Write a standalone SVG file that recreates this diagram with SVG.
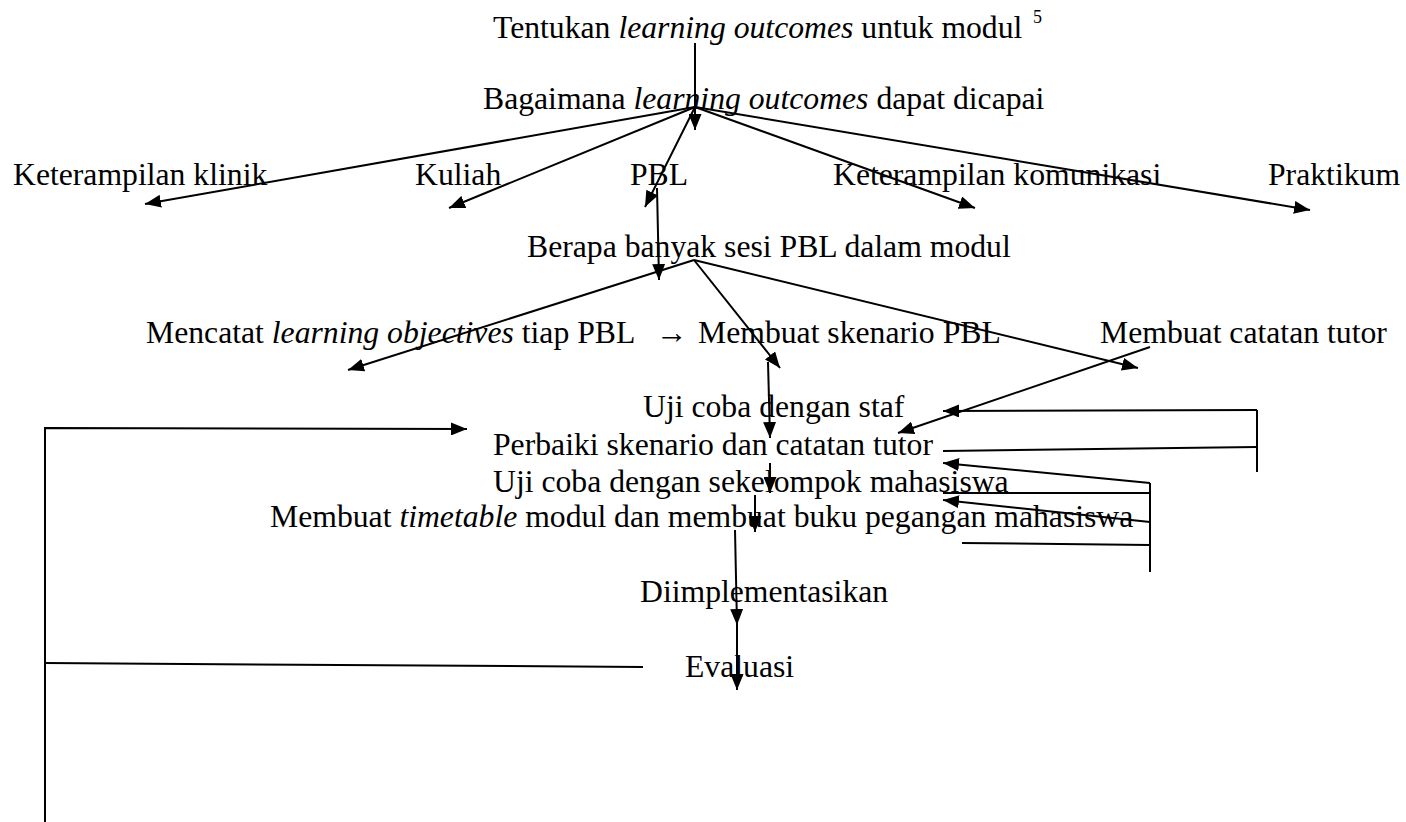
<svg xmlns="http://www.w3.org/2000/svg" width="1406" height="822" viewBox="0 0 1406 822">
<defs>
<style>
text{font-family:"Liberation Serif","Times New Roman",serif;font-size:31.7px;fill:#000}
.i{font-style:italic}
.sup{font-size:18px}
.c line,.c polyline{stroke:#000;stroke-width:2;fill:none}
</style>
<marker id="ah" viewBox="0 0 16 13" refX="16" refY="6.5" markerWidth="16" markerHeight="13" markerUnits="userSpaceOnUse" orient="auto"><path d="M0,0 L16,6.5 L0,13 z" fill="#000"/></marker>
</defs>
<rect width="1406" height="822" fill="#fff"/>
<g id="n-tentukan"><text x="493" y="38">Tentukan <tspan class="i">learning outcomes</tspan> untuk modul</text><text class="sup" x="1033" y="23">5</text></g>
<g id="n-bagaimana"><text x="483" y="109">Bagaimana <tspan class="i">learning outcomes</tspan> dapat dicapai</text></g>
<g id="n-klinik"><text x="13" y="185">Keterampilan klinik</text></g>
<g id="n-kuliah"><text x="415" y="185">Kuliah</text></g>
<g id="n-pbl"><text x="630" y="185">PBL</text></g>
<g id="n-komunikasi"><text x="833" y="185">Keterampilan komunikasi</text></g>
<g id="n-praktikum"><text x="1268" y="185">Praktikum</text></g>
<g id="n-berapa"><text x="527" y="257">Berapa banyak sesi PBL dalam modul</text></g>
<g id="n-mencatat"><text x="146" y="343">Mencatat <tspan class="i">learning objectives</tspan> tiap PBL</text><text x="656" y="343">→</text></g>
<g id="n-skenario"><text x="698" y="343">Membuat skenario PBL</text></g>
<g id="n-tutor"><text x="1100" y="343">Membuat catatan tutor</text></g>
<g id="n-ujistaf"><text x="643" y="417">Uji coba dengan staf</text></g>
<g id="n-perbaiki"><text x="493" y="455">Perbaiki skenario dan catatan tutor</text></g>
<g id="n-ujimhs"><text x="493" y="492">Uji coba dengan sekelompok mahasiswa</text></g>
<g id="n-timetable"><text x="270" y="527">Membuat <tspan class="i">timetable</tspan> modul dan membuat buku pegangan mahasiswa</text></g>
<g id="n-implementasi"><text x="640" y="602">Diimplementasikan</text></g>
<g id="n-evaluasi"><text x="685" y="677">Evaluasi</text></g>
<g id="connectors" class="c">
<line x1="695" y1="43" x2="695" y2="130" marker-end="url(#ah)"/>
<line x1="695" y1="107" x2="145" y2="204" marker-end="url(#ah)"/>
<line x1="695" y1="107" x2="449" y2="208" marker-end="url(#ah)"/>
<line x1="695" y1="107" x2="645" y2="207" marker-end="url(#ah)"/>
<line x1="695" y1="107" x2="975" y2="208" marker-end="url(#ah)"/>
<line x1="695" y1="107" x2="1310" y2="210" marker-end="url(#ah)"/>
<line x1="657" y1="188" x2="659" y2="280" marker-end="url(#ah)"/>
<line x1="694" y1="260" x2="348" y2="370" marker-end="url(#ah)"/>
<line x1="694" y1="260" x2="780" y2="368" marker-end="url(#ah)"/>
<line x1="694" y1="260" x2="1138" y2="368" marker-end="url(#ah)"/>
<line x1="768" y1="362" x2="770" y2="438" marker-end="url(#ah)"/>
<line x1="1150" y1="347" x2="898" y2="433" marker-end="url(#ah)"/>
<line x1="770" y1="463" x2="770" y2="493" marker-end="url(#ah)"/>
<line x1="755" y1="495" x2="755" y2="532" marker-end="url(#ah)"/>
<line x1="735" y1="530" x2="737" y2="625" marker-end="url(#ah)"/>
<line x1="737" y1="625" x2="737" y2="690" marker-end="url(#ah)"/>
<line x1="1257" y1="410" x2="943" y2="411" marker-end="url(#ah)"/>
<line x1="1257" y1="410" x2="1257" y2="472"/>
<line x1="943" y1="451" x2="1257" y2="447"/>
<line x1="1150" y1="483" x2="1150" y2="572"/>
<line x1="1150" y1="483" x2="943" y2="463" marker-end="url(#ah)"/>
<line x1="943" y1="493" x2="1150" y2="493"/>
<line x1="1150" y1="522" x2="943" y2="500" marker-end="url(#ah)"/>
<line x1="962" y1="543" x2="1150" y2="545"/>
<polyline points="45,822 45,428 467,429" marker-end="url(#ah)"/>
<line x1="45" y1="663" x2="643" y2="667"/>
</g>
</svg>
